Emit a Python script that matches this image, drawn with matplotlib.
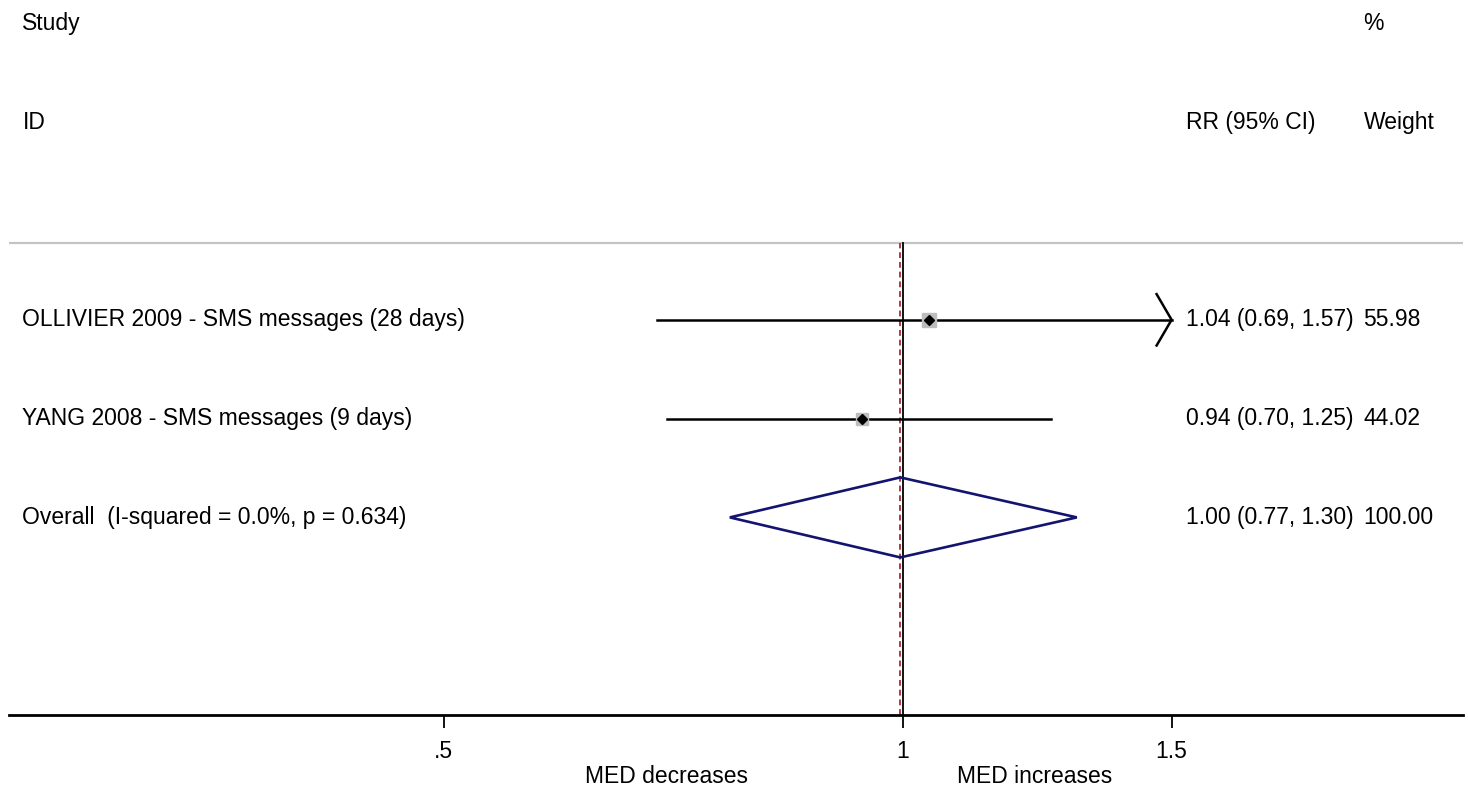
import numpy as np
import matplotlib
matplotlib.use("Agg")
import matplotlib.pyplot as plt
from matplotlib.transforms import blended_transform_factory
from matplotlib.ticker import NullLocator

# данные исследований
studies = ["OLLIVIER 2009 - SMS messages (28 days)", "YANG 2008 - SMS messages (9 days)"]
rr = [1.04, 0.94]
ci_low = [0.69, 0.70]
ci_high = [1.57, 1.25]
weights = [55.98, 44.02]

overall_label = "Overall  (I-squared = 0.0%, p = 0.634)"
overall_rr = 0.996
overall_low = 0.77
overall_high = 1.30

tick_vals = [0.5, 1, 1.5]
tick_labels = [".5", "1", "1.5"]
favours = ["MED decreases", "MED increases"]
favours_x = [0.70, 1.22]

plt.rcParams['font.family'] = ['Liberation Sans', 'DejaVu Sans']
FS = 16.5

fig = plt.figure(figsize=(14.68, 7.87), dpi=100)
ax = fig.add_axes([9 / 1468, 72 / 787, 1454 / 1468, 715 / 787])
ax.set_xscale('log')
ax.set_xlim(0.2594, 2.3287)
ax.set_ylim(0, 7.237)

for s in ['top', 'left', 'right']:
    ax.spines[s].set_visible(False)
ax.spines['bottom'].set_linewidth(2)
ax.set_yticks([])
ax.set_xticks(tick_vals)
ax.set_xticklabels(tick_labels, fontsize=FS)
ax.xaxis.set_minor_locator(NullLocator())
ax.tick_params(axis='x', direction='out', length=9, width=1.3, pad=9)

tr = blended_transform_factory(ax.transAxes, ax.transData)
x_study, x_rr, x_w = 0.0092, 0.8092, 0.9316

# заголовки
ax.text(x_study, 7, "Study", transform=tr, fontsize=FS, va='center')
ax.text(x_study, 6, "ID", transform=tr, fontsize=FS, va='center')
ax.text(x_w, 7, "%", transform=tr, fontsize=FS, va='center')
ax.text(x_rr, 6, "RR (95% CI)", transform=tr, fontsize=FS, va='center')
ax.text(x_w, 6, "Weight", transform=tr, fontsize=FS, va='center')

line_y = 4.78
ax.axhline(line_y, color='#c4c4c4', lw=1.6)

# линии нулевого эффекта и общей оценки
ax.plot([1, 1], [0, line_y], color='black', lw=1.3, zorder=2)
ax.plot([overall_rr, overall_rr], [0, line_y], color='#b03a48', lw=1.4,
        linestyle=(0, (3, 2)), zorder=2)

xmax_ci = tick_vals[-1]
rows = [4, 3]
for i, y in enumerate(rows):
    hi = min(ci_high[i], xmax_ci)
    ax.plot([ci_low[i], hi], [y, y], color='black', lw=1.8, zorder=3)
    if ci_high[i] > xmax_ci:
        back = xmax_ci * np.exp(-15 / 662.5)
        ax.plot([back, xmax_ci, back], [y + 0.26, y, y - 0.26],
                color='black', lw=1.8, zorder=3)
    ax.plot(rr[i], y, marker='s', color='#bdbdbd', ms=1.3 * np.sqrt(weights[i]),
            mec='#bdbdbd', zorder=4)
    ax.plot(rr[i], y, marker='D', color='black', ms=5.5, zorder=5)
    ax.text(x_study, y, studies[i], transform=tr, fontsize=FS, va='center')
    ax.text(x_rr, y, "%.2f (%.2f, %.2f)" % (rr[i], ci_low[i], ci_high[i]),
            transform=tr, fontsize=FS, va='center')
    ax.text(x_w, y, "%.2f" % weights[i], transform=tr, fontsize=FS, va='center')

# ромб общей оценки
y = 2
ax.fill([overall_low, overall_rr, overall_high, overall_rr, overall_low],
        [y, y + 0.405, y, y - 0.405, y], facecolor='none', edgecolor='#141470',
        lw=1.9, zorder=4)
ax.text(x_study, y, overall_label, transform=tr, fontsize=FS, va='center')
ax.text(x_rr, y, "%.2f (%.2f, %.2f)" % (1.00, overall_low, overall_high),
        transform=tr, fontsize=FS, va='center')
ax.text(x_w, y, "%.2f" % sum(weights), transform=tr, fontsize=FS, va='center')

for lab, fx in zip(favours, favours_x):
    ax.text(fx, -0.625, lab, fontsize=FS, ha='center', va='center', clip_on=False)

fig.savefig("out.png", dpi=100)
